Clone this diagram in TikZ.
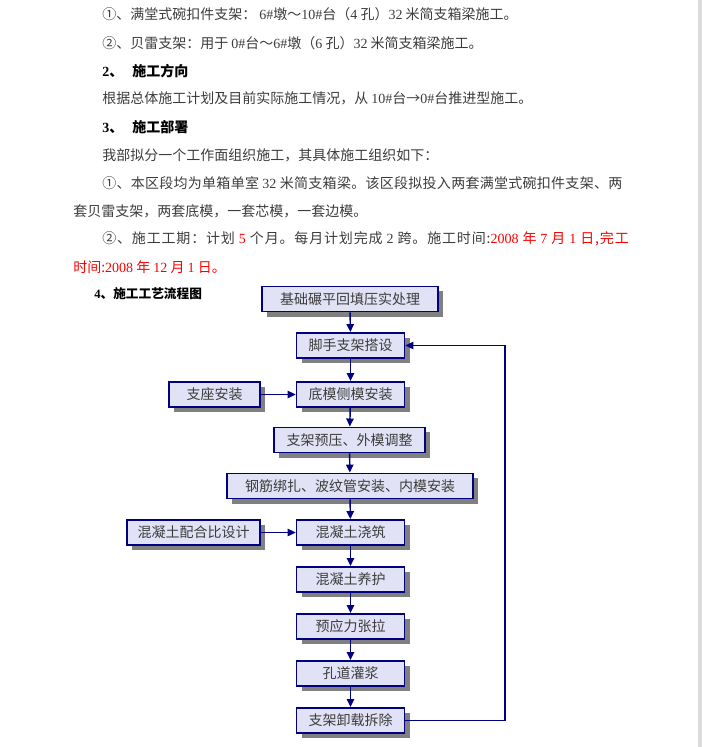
\documentclass[tikz,border=0pt]{standalone}
\usepackage{fontspec}
\setmainfont{Liberation Serif}
\newfontfamily\cjk{Noto Sans CJK SC}
\usetikzlibrary{arrows.meta,shadows}
\NewDocumentCommand\nm{m}{{\rmfamily #1}}
\NewDocumentCommand\rd{m}{\textcolor{red}{#1}}
\definecolor{navy}{RGB}{0,0,128}
\definecolor{boxfill}{RGB}{226,226,246}
\definecolor{shade}{RGB}{128,128,128}
\definecolor{ink}{RGB}{60,60,60}
\definecolor{pageedge}{RGB}{220,220,220}
\tikzset{
  txt/.style={anchor=west,inner sep=0pt,text=ink,font=\cjk\fontsize{10.5pt}{12pt}\selectfont},
  head/.style={txt,text=black,font=\cjk\bfseries\fontsize{10.5pt}{12pt}\selectfont},
  stepbox/.style={draw=navy,line width=1.2pt,fill=boxfill,text=ink,inner sep=0pt,
    minimum width=81pt,minimum height=19pt,font=\cjk\fontsize{10.5pt}{12pt}\selectfont,
    drop shadow={shadow xshift=3.75pt,shadow yshift=-3.75pt,fill=shade,opacity=1}},
  flow/.style={draw=navy,line width=1.1pt,-{Triangle[length=6pt,width=5.5pt]}}
}

\begin{document}
\begin{tikzpicture}[x=0.75pt,y=-0.75pt]
        \useasboundingbox (0,0) rectangle (702,747);
        \fill[pageedge] (698,0) rectangle (702,747);
        \node[txt] (l1) at (102,14) {①、满堂式碗扣件支架：\ \nm{6\#}墩～\nm{10\#}台（\nm{4} 孔）\nm{32} 米简支箱梁施工。};
        \node[txt] (l2) at (102,43) {②、贝雷支架：用于 \nm{0\#}台～\nm{6\#}墩（\nm{6} 孔）\nm{32} 米简支箱梁施工。};
        \node[head] (h2) at (102,71) {\nm{2}、\hspace{6.75pt}施工方向};
        \node[txt] (l3) at (102,98) {根据总体施工计划及目前实际施工情况，从 \nm{10\#}台→\nm{0\#}台推进型施工。};
        \node[head] (h3) at (102,127) {\nm{3}、\hspace{6.75pt}施工部署};
        \node[txt] (l4) at (102,155) {我部拟分一个工作面组织施工，其具体施工组织如下：};
        \node[txt] (l5) at (102,183) {\addfontfeature{LetterSpace=2}①、本区段均为单箱单室 \nm{32} 米简支箱梁。该区段拟投入两套满堂式碗扣件支架、两};
        \node[txt] (l6) at (73,211) {套贝雷支架，两套底模，一套芯模，一套边模。};
        \node[txt] (l7) at (102,239) {\addfontfeature{LetterSpace=6}②、施工工期：计划 \rd{\nm{5}} 个月。每月计划完成 \nm{2} 跨。施工时间:\rd{\nm{2008} 年 \nm{7} 月 \nm{1} 日,完工}};
        \node[txt,text=red] (l8) at (73,267) {时间:\nm{2008} 年 \nm{12} 月 \nm{1} 日。};
        \node[head,font=\cjk\bfseries\fontsize{9.5pt}{11pt}\selectfont] (h4) at (94,294) {\nm{4}、施工工艺流程图};
        \node[stepbox,minimum width=132pt] (b1) at (350,299) {基础碾平回填压实处理};
        \node[stepbox] (b2) at (350.5,345.5) {脚手支架搭设};
        \node[stepbox,minimum width=68.25pt] (b3) at (214.5,394.5) {支座安装};
        \node[stepbox] (b4) at (350.5,394.5) {底模侧模安装};
        \node[stepbox,minimum width=113.25pt] (b5) at (349.5,440) {支架预压、外模调整};
        \node[stepbox,minimum width=184.5pt] (b6) at (350,486) {钢筋绑扎、波纹管安装、内模安装};
        \node[stepbox,minimum width=99.75pt] (b7) at (193.5,532.5) {混凝土配合比设计};
        \node[stepbox] (b8) at (350.5,532.5) {混凝土浇筑};
        \node[stepbox] (b9) at (350.5,579.5) {混凝土养护};
        \node[stepbox] (b10) at (350.5,626.5) {预应力张拉};
        \node[stepbox] (b11) at (350.5,673.5) {孔道灌浆};
        \node[stepbox] (b12) at (350.5,720.5) {支架卸载拆除};
        \coordinate (ret) at (505,345.5);
        \draw[flow] (b1) -- (b2);
        \draw[flow] (b2) -- (b4);
        \draw[flow] (b3) -- (b4);
        \draw[flow] (b4) -- (b5);
        \draw[flow] (b5) -- (b6);
        \draw[flow] (b6) -- (b8);
        \draw[flow] (b7) -- (b8);
        \draw[flow] (b8) -- (b9);
        \draw[flow] (b9) -- (b10);
        \draw[flow] (b10) -- (b11);
        \draw[flow] (b11) -- (b12);
        \draw[flow] (b12.east) -| (ret) -- (b2.east);
    \end{tikzpicture}
\end{document}
